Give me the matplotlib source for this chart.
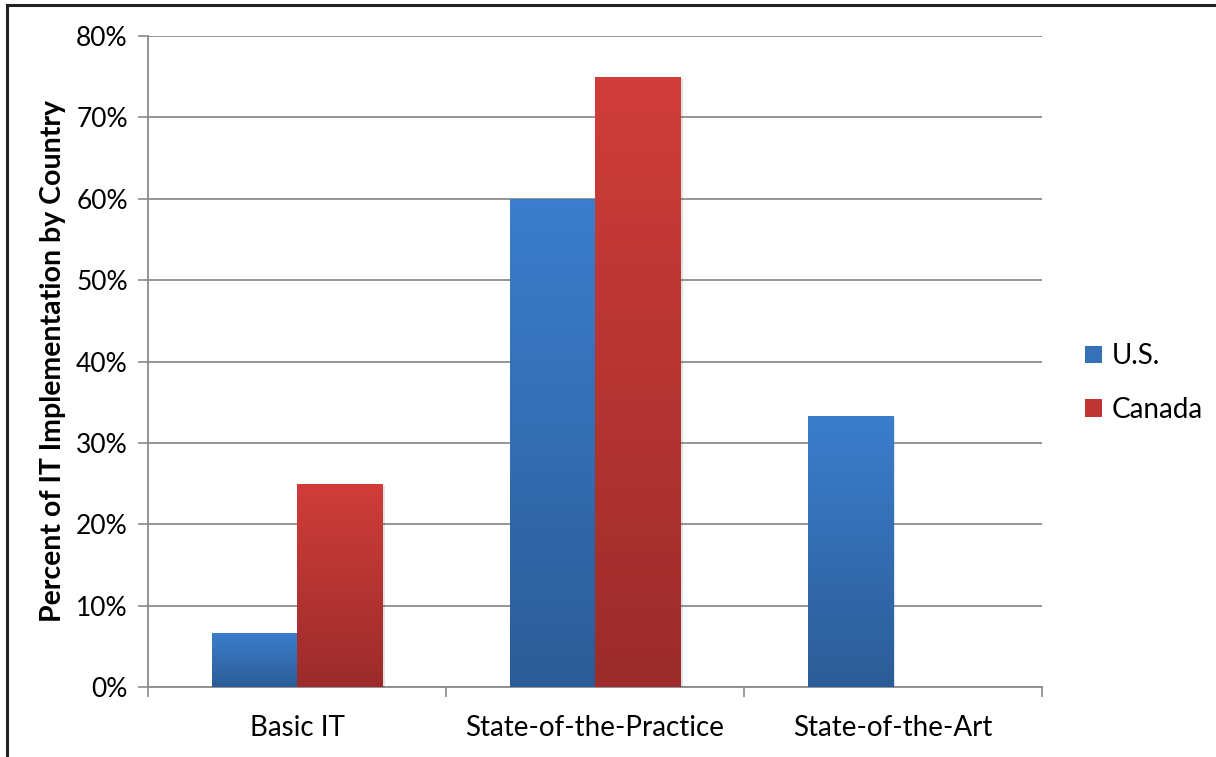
import matplotlib
matplotlib.use("Agg")
import matplotlib.pyplot as plt
import matplotlib.patheffects as pe
from matplotlib.colors import LinearSegmentedColormap
from matplotlib.patches import Patch
from matplotlib.ticker import FuncFormatter
import numpy as np

plt.rcParams["font.family"] = ["Lato", "DejaVu Sans"]

categories = ["Basic IT", "State-of-the-Practice", "State-of-the-Art"]
series_names = ["U.S.", "Canada"]
us_vals = [0.0667, 0.60, 0.3333]
canada_vals = [0.25, 0.75, 0.0]

# top / bottom colours of the gradient fills
grads = {
    "U.S.": ("#3b7ecd", "#2c5c97"),
    "Canada": ("#d03d3a", "#9b2c2b"),
}

fig = plt.figure(figsize=(12.16, 7.57), dpi=100)
ax = fig.add_axes([148 / 1216, 1 - 687 / 757, (1042 - 148) / 1216, (687 - 36) / 757])

x = np.arange(len(categories))
w = 0.2867
grad_img = np.linspace(1, 0, 256).reshape(-1, 1)

for vals, name, off in [(us_vals, "U.S.", -w / 2), (canada_vals, "Canada", w / 2)]:
    top, bot = grads[name]
    cmap = LinearSegmentedColormap.from_list(name, [bot, top])
    bars = ax.bar(x + off, vals, w, color=top, zorder=3, linewidth=0,
                  path_effects=[pe.SimplePatchShadow(offset=(1.5, -1.5), alpha=0.12),
                                pe.Normal()])
    for b, v in zip(bars, vals):
        if v <= 0:
            continue
        im = ax.imshow(grad_img, cmap=cmap, aspect="auto", zorder=4,
                       extent=[b.get_x(), b.get_x() + b.get_width(), 0, v],
                       interpolation="bicubic", vmin=0, vmax=1)
        im.set_clip_path(b)

ax.set_xlim(-0.5, 2.5)
ax.set_ylim(0, 0.8)
ax.set_yticks(np.arange(0, 0.81, 0.1))
ax.yaxis.set_major_formatter(FuncFormatter(lambda v, p: f"{v * 100:.0f}%"))
ax.set_xticks(x)
ax.set_xticklabels(categories)
ax.set_xticks([-0.5, 0.5, 1.5, 2.5], minor=True)
ax.tick_params(axis="x", which="major", length=0, pad=20, labelsize=20)
ax.tick_params(axis="x", which="minor", length=7.5, width=1.2, color="#8a8a8a")
ax.tick_params(axis="y", length=7.5, width=1.2, color="#8a8a8a", pad=7, labelsize=19)

ax.grid(True, axis="y", color="#8c8c8c", linewidth=1.3, zorder=0)
ax.set_axisbelow(True)
for s in ["top", "right"]:
    ax.spines[s].set_visible(False)
for s in ["left", "bottom"]:
    ax.spines[s].set_color("#8a8a8a")
    ax.spines[s].set_linewidth(1.3)

ax.set_ylabel("Percent of IT Implementation by Country", fontsize=20.5,
              fontweight="bold", labelpad=7)

handles = [Patch(facecolor="#3570b8", label="U.S."),
           Patch(facecolor="#bf3534", label="Canada")]
fig.legend(handles=handles, loc="center left", bbox_to_anchor=(1085 / 1216, 1 - 383 / 757),
           frameon=False, fontsize=20, handlelength=0.6, handleheight=0.6,
           handletextpad=0.35, labelspacing=1.0, borderpad=0, borderaxespad=0)

# outer chart border (top and left visible)
fig.add_artist(plt.Line2D([6.5 / 1216, 1.01], [1 - 4.5 / 757, 1 - 4.5 / 757],
                          transform=fig.transFigure, color="#222222", linewidth=2.2))
fig.add_artist(plt.Line2D([6.5 / 1216, 6.5 / 1216], [-0.01, 1 - 4.5 / 757],
                          transform=fig.transFigure, color="#222222", linewidth=2.2))

fig.savefig("out.png", dpi=100)
